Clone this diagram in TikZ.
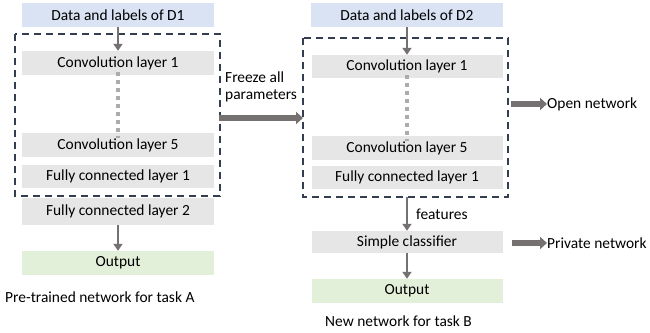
\documentclass[tikz,border=0pt]{standalone}
\usepackage{fontspec}
\setmainfont{Carlito}
\usetikzlibrary{arrows.meta}
\definecolor{datablue}{HTML}{DAE3F3}
\definecolor{layergrey}{HTML}{E7E6E6}
\definecolor{outgreen}{HTML}{E2F0D9}
\definecolor{framenavy}{HTML}{333F50}
\definecolor{arrowgrey}{HTML}{767171}
\definecolor{dotgrey}{HTML}{AFABAB}
\begin{document}
\begin{tikzpicture}[x=1bp,y=-1bp,
  font=\fontsize{15.5}{19}\selectfont,
  layerbox/.style={fill=layergrey, inner sep=0pt},
  databox/.style={fill=datablue, inner sep=0pt},
  outbox/.style={fill=outgreen, inner sep=0pt},
  frame/.style={draw=framenavy, line width=1.8bp, dash pattern=on 7bp off 5bp},
  flow/.style={draw=arrowgrey, line width=2.8bp, -{Triangle[width=9bp,length=7bp]}},
  bigflow/.style={draw=arrowgrey, line width=5.5bp, -{Triangle[width=12bp,length=7bp]}},
  dots/.style={draw=dotgrey, line width=4bp, dash pattern=on 4bp off 4bp},
  plain/.style={inner sep=0pt, anchor=west}]
\useasboundingbox (0,0) rectangle (650,332);

% ---- pre-trained network (task A) ----
\node[databox, minimum width=192bp, minimum height=24bp] (d1) at (118,15) {Data and labels of D1};
\node[layerbox, minimum width=192bp, minimum height=24bp] (a1) at (118,63) {Convolution layer 1};
\node[layerbox, minimum width=192bp, minimum height=24bp] (a5) at (118,145) {Convolution layer 5};
\node[layerbox, minimum width=192bp, minimum height=23bp] (af1) at (118,176.5) {Fully connected layer 1};
\node[layerbox, minimum width=192bp, minimum height=27bp] (af2) at (118,211.5) {Fully connected layer 2};
\node[outbox, minimum width=192bp, minimum height=24bp] (ao) at (118,263) {Output};
\node[plain] (capa) at (5,297) {Pre-trained network for task A};
\draw[frame] (15,34) rectangle (220,196);
\coordinate (fA) at (219,118);

\draw[flow] (d1.south) -- (a1.north);
\draw[dots] ([yshift=3bp]a1.south) -- ([yshift=-5bp]a5.north);
\draw[flow] (af2.south) -- (ao.north);

% ---- new network (task B) ----
\node[databox, minimum width=192bp, minimum height=24bp] (d2) at (407,15) {Data and labels of D2};
\node[layerbox, minimum width=191bp, minimum height=23bp] (b1) at (407,66.5) {Convolution layer 1};
\node[layerbox, minimum width=191bp, minimum height=24bp] (b5) at (407,148) {Convolution layer 5};
\node[layerbox, minimum width=191bp, minimum height=23bp] (bf1) at (407,177.5) {Fully connected layer 1};
\node[layerbox, minimum width=191bp, minimum height=22bp] (bc) at (407,242) {Simple classifier};
\node[outbox, minimum width=191bp, minimum height=24bp] (bo) at (407,291) {Output};
\node[plain] (capb) at (325,321) {New network for task B};
\draw[frame] (303,38) rectangle (508,197);
\coordinate (fB) at (303,118);
\coordinate (bt) at (407,197);

\draw[flow] (d2.south) -- (b1.north);
\draw[dots] ([yshift=3bp]b1.south) -- ([yshift=-5bp]b5.north);
\draw[flow] (bt) -- (bc.north);
\node[plain] (feat) at (416,214) {features};
\draw[flow] (bc.south) -- (bo.north);

% ---- transfer and outputs ----
\draw[bigflow] (fA) -- (fB);
\node[plain, align=left, anchor=north west, font=\fontsize{15.5}{16.5}\selectfont] (frz) at (225,72) {Freeze all\\parameters};

\coordinate (on0) at (511,104);
\node[plain] (open) at (547,104) {Open network};
\draw[bigflow] (on0) -- (open.west);

\coordinate (pn0) at (512,243);
\node[plain] (priv) at (547,243) {Private network};
\draw[bigflow] (pn0) -- (priv.west);
\end{tikzpicture}
\end{document}
